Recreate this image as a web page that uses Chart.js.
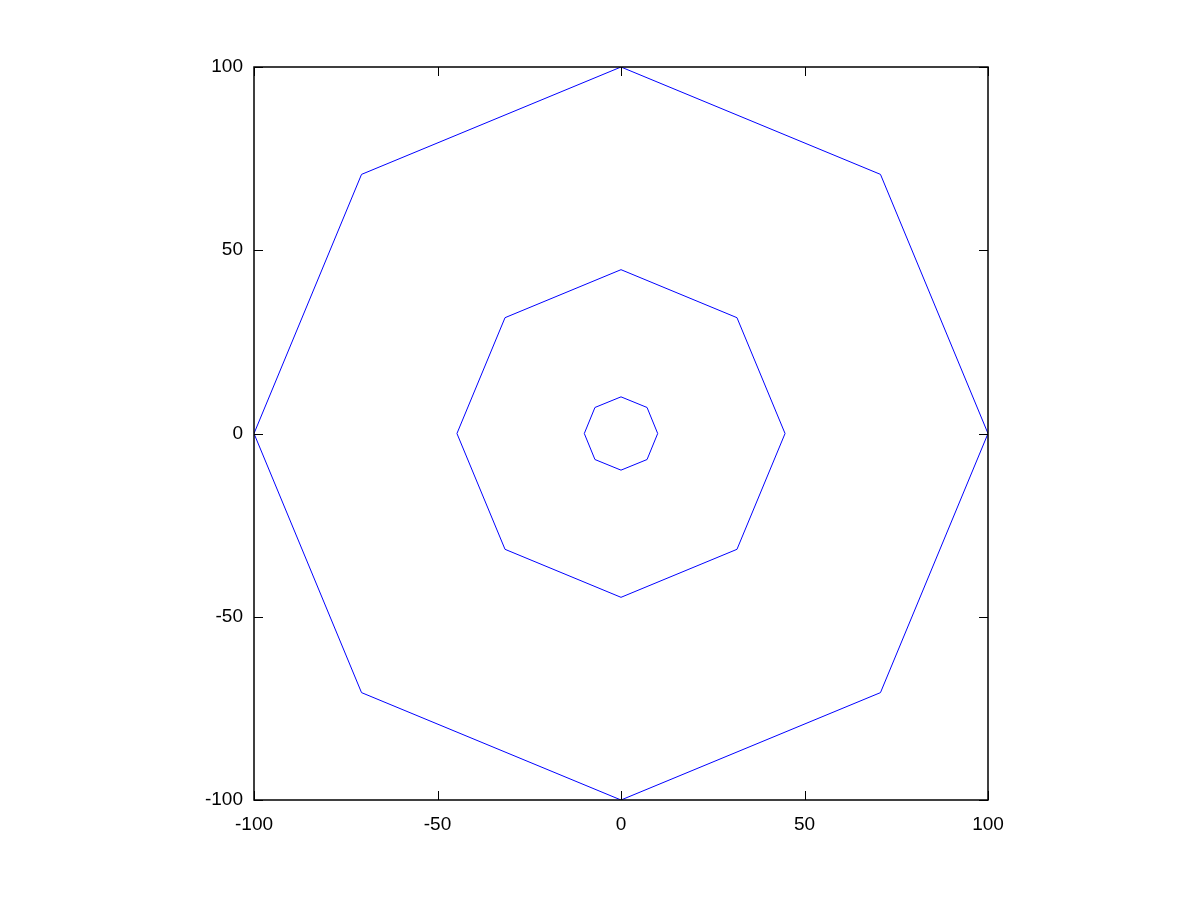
<!DOCTYPE html>
<html>
<head>
<meta charset="utf-8">
<script src="https://cdn.jsdelivr.net/npm/chart.js@4/dist/chart.umd.min.js"></script>
<style>
    html, body { margin: 0; padding: 0; background: #fff; }
    #wrap { width: 1200px; height: 900px; }
</style>
</head>
<body>
<div id="wrap"><canvas id="octChart" width="1200" height="900"></canvas></div>
<script>
// 데이터 (그림에서 읽은 꼭짓점 좌표)
const outerX = [100, 70.7, 0, -70.7, -100, -70.7, 0, 70.7, 100];
const outerY = [0, 70.7, 100, 70.7, 0, -70.7, -100, -70.7, 0];
const middleX = [44.7, 31.6, 0, -31.6, -44.7, -31.6, 0, 31.6, 44.7];
const middleY = [0, 31.6, 44.7, 31.6, 0, -31.6, -44.7, -31.6, 0];
const innerX = [10, 7.1, 0, -7.1, -10, -7.1, 0, 7.1, 10];
const innerY = [0, 7.1, 10, 7.1, 0, -7.1, -10, -7.1, 0];
const tickValues = [-100, -50, 0, 50, 100];

function toPoints(xs, ys) {
    return xs.map((x, i) => ({ x: x, y: ys[i] }));
}

function makeSet(xs, ys) {
    return {
        data: toPoints(xs, ys),
        showLine: true,
        borderColor: '#0000ff',
        borderWidth: 1,
        pointRadius: 0,
        fill: false,
        tension: 0
    };
}

// 테두리와 안쪽 눈금
const frameTicks = {
    id: 'frameTicks',
    afterDraw(chart) {
        const ctx = chart.ctx;
        const a = chart.chartArea;
        const xs = chart.scales.x;
        const ys = chart.scales.y;
        const len = 9;
        ctx.save();
        ctx.strokeStyle = '#000';
        ctx.lineWidth = 1;
        ctx.beginPath();
        tickValues.forEach(v => {
            const px = Math.round(xs.getPixelForValue(v)) + 0.5;
            ctx.moveTo(px, a.bottom); ctx.lineTo(px, a.bottom - len);
            ctx.moveTo(px, a.top); ctx.lineTo(px, a.top + len);
            const py = Math.round(ys.getPixelForValue(v)) + 0.5;
            ctx.moveTo(a.left, py); ctx.lineTo(a.left + len, py);
            ctx.moveTo(a.right, py); ctx.lineTo(a.right - len, py);
        });
        ctx.stroke();
        ctx.lineWidth = 1.5;
        ctx.strokeRect(a.left, a.top, a.right - a.left, a.bottom - a.top);
        ctx.restore();
    }
};

const ctx = document.getElementById('octChart').getContext('2d');
new Chart(ctx, {
    type: 'scatter',
    data: {
        datasets: [
            makeSet(outerX, outerY),
            makeSet(middleX, middleY),
            makeSet(innerX, innerY)
        ]
    },
    options: {
        responsive: false,
        animation: false,
        layout: { padding: { left: 0, right: 212, top: 67, bottom: 0 } },
        plugins: {
            legend: { display: false },
            tooltip: { enabled: false }
        },
        scales: {
            x: {
                type: 'linear',
                min: -100,
                max: 100,
                afterFit: s => { s.height = 100; },
                afterBuildTicks: s => { s.ticks = tickValues.map(v => ({ value: v })); },
                grid: { display: false, drawTicks: false },
                border: { display: false },
                ticks: {
                    padding: 13,
                    color: '#000',
                    font: { family: 'Liberation Sans', size: 19 },
                    maxRotation: 0
                }
            },
            y: {
                type: 'linear',
                min: -100,
                max: 100,
                afterFit: s => { s.width = 254; },
                afterBuildTicks: s => { s.ticks = tickValues.map(v => ({ value: v })); },
                grid: { display: false, drawTicks: false },
                border: { display: false },
                ticks: {
                    padding: 11,
                    color: '#000',
                    font: { family: 'Liberation Sans', size: 19 }
                }
            }
        }
    },
    plugins: [frameTicks]
});
</script>
</body>
</html>
